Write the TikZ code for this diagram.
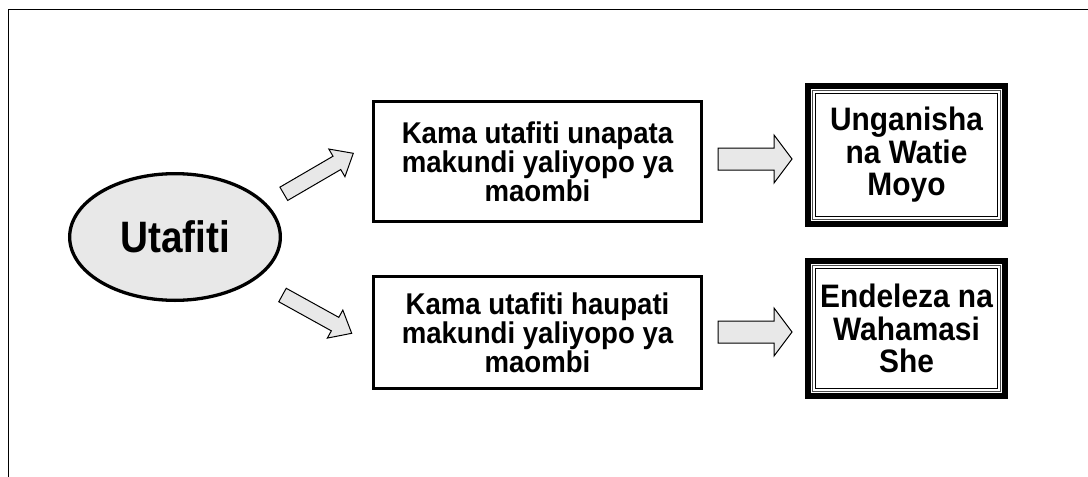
\documentclass[tikz,border=0pt]{standalone}
\usepackage{fontspec}
\setmainfont{Liberation Sans}
\newfontfamily\boxfont{Liberation Sans}[FakeStretch=0.92]
\newfontfamily\bigfont{Liberation Sans}[FakeStretch=0.88]
\usetikzlibrary{calc,shapes.geometric}
\definecolor{lightfill}{HTML}{E8E8E8}
\tikzset{
  frameline/.style={line width=1.5pt, black},
  choicebox/.style={draw, line width=3.2pt, inner sep=0pt, outer sep=0pt, align=center,
    minimum width=327.8pt, font=\boxfont\bfseries\fontsize{30}{27.5}\selectfont},
  resultbox/.style={draw, line width=5.7pt, inner sep=0pt, outer sep=0pt, align=center,
    minimum width=197.3pt, font=\boxfont\bfseries\fontsize{32.5}{32.5}\selectfont},
  innerA/.style={line width=1.3pt, black!70},
  innerB/.style={line width=1.3pt, black},
  mainell/.style={draw, ellipse, fill=lightfill, line width=3.3pt, inner sep=0pt, outer sep=0pt,
    minimum width=210.7pt, minimum height=126.7pt, font=\bigfont\bfseries\fontsize{44}{50}\selectfont},
  barrow/.style={draw, fill=lightfill, line width=1pt, line join=miter},
}
% block arrow from #1 to #2; shaft half width #3, head half width #4, head length #5
\newcommand\blockarr[5]{%
  \coordinate (#1-#2-h) at ($(#2)!#5!(#1)$);
  \draw[barrow] ($(#1)!#3!90:(#2)$) -- ($(#1-#2-h)!#3!-90:(#1)$) -- ($(#1-#2-h)!#4!-90:(#1)$)
    -- (#2) -- ($(#1-#2-h)!#4!90:(#1)$) -- ($(#1-#2-h)!#3!90:(#1)$) -- ($(#1)!#3!-90:(#2)$) -- cycle;}
\begin{document}
\begin{tikzpicture}[x=1pt,y=-1pt]
\useasboundingbox (0,0) rectangle (1088,477);
% frame
\coordinate (fbl) at (8.5,477);
\coordinate (ftl) at (8.5,9.5);
\coordinate (ftr) at (1088,9.5);
\draw[frameline] (fbl) -- (ftl) -- (ftr);
% nodes
\node[mainell] (U) at (175,237) {Utafiti};
\node[choicebox, minimum height=119.8pt] (B1) at (537.5,161.5) {Kama utafiti unapata\\makundi yaliyopo ya\\maombi};
\node[choicebox, minimum height=111.8pt] (B2) at (537.5,332.5) {Kama utafiti haupati\\makundi yaliyopo ya\\maombi};
\node[resultbox, minimum height=138.3pt] (R1) at (906.5,155) {Unganisha\\na Watie\\Moyo};
\node[resultbox, minimum height=135.3pt] (R2) at (906.5,328.5) {Endeleza na\\Wahamasi\\She};
% inner double lines
\foreach \n in {R1,R2}{
  \draw[innerA] ([shift={(4.8,4.8)}]\n.north west) rectangle ([shift={(-4.8,-4.8)}]\n.south east);
  \draw[innerB] ([shift={(7.8,7.8)}]\n.north west) rectangle ([shift={(-7.8,-7.8)}]\n.south east);
}
% arrow end points
\coordinate (a1s) at (283.8,193.8);
\coordinate (a1e) at (353.3,153.3);
\coordinate (a2s) at (282.5,295);
\coordinate (a2e) at (351.7,333.3);
\coordinate (h1s) at (718,159);
\coordinate (h1e) at (792,159);
\coordinate (h2s) at (718,332);
\coordinate (h2e) at (792,332);
\blockarr{a1s}{a1e}{7.7pt}{16pt}{19pt}
\blockarr{a2s}{a2e}{7.7pt}{16pt}{19pt}
\blockarr{h1s}{h1e}{11pt}{24pt}{18pt}
\blockarr{h2s}{h2e}{11pt}{24pt}{18pt}
\end{tikzpicture}
\end{document}
